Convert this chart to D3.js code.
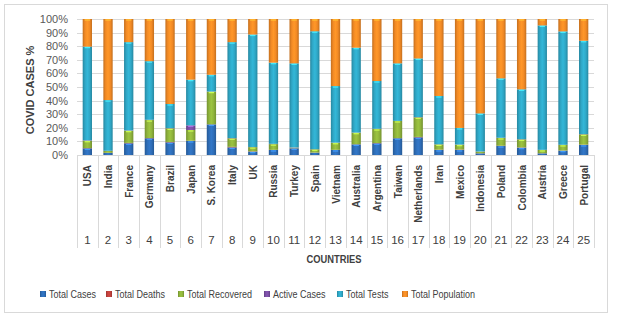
<!DOCTYPE html>
<html>
<head>
<meta charset="utf-8">
<script src="https://cdn.jsdelivr.net/npm/d3@7"></script>
<style>
	body { margin: 0; background: #fff; }
	text { font-family: "Liberation Sans", Arial, sans-serif; }
</style>
</head>
<body>
<svg id="chart" width="618" height="321"></svg>
<script>
// data (percent share of each stack)
let countries = ["USA", "India", "France", "Germany", "Brazil", "Japan", "S. Korea", "Italy", "UK", "Russia",
	"Turkey", "Spain", "Vietnam", "Australia", "Argentina", "Taiwan", "Netherlands", "Iran", "Mexico",
	"Indonesia", "Poland", "Colombia", "Austria", "Greece", "Portugal"];
let ranks = d3.range(1, 26).map(String);
let totalCases = [4.9, 1.5, 8.6, 12.3, 9.3, 10.3, 22.5, 5.6, 2.5, 3.7, 4.9, 1.7, 3.7, 7.8, 8.6, 12.3, 13, 3.7, 3.7, 1.2, 6.6, 5.4, 1.2, 3.2, 7.4];
let totalDeaths = [0.2, 0.1, 0.3, 0.2, 0.3, 0.2, 0.1, 0.4, 0.2, 0.1, 0.1, 0.1, 0.1, 0.1, 0.2, 0.1, 0.3, 0.2, 0.3, 0.1, 0.2, 0.2, 0.1, 0.1, 0.2];
let totalRecovered = [5.4, 1.4, 9.0, 13.2, 10.0, 7.9, 24.0, 6.3, 3.1, 4.2, 0.4, 2.4, 5.2, 8.5, 10.3, 12.6, 14.4, 3.9, 3.6, 1.2, 5.7, 5.9, 2.4, 4.1, 7.6];
let activeCases = [0.3, 0.1, 0.2, 0.2, 0.2, 3.4, 0.1, 0.2, 0.1, 0.2, 0.2, 0.1, 0.1, 0.1, 0.2, 0.1, 0.2, 0.1, 0.1, 0.1, 0.2, 0.2, 0.1, 0.1, 0.2];
let totalTests = [68.9, 37.3, 64.9, 43.1, 17.7, 33.6, 12.3, 70.5, 82.7, 59.7, 61.8, 86.7, 41.6, 62.4, 35.1, 42.3, 43.1, 35.5, 12.2, 28.0, 43.7, 36.6, 91.5, 83.4, 68.6];
let totalPopulation = [20.3, 59.6, 17, 31, 62.5, 44.6, 41, 17, 11.4, 32.1, 32.6, 9, 49.3, 21.1, 45.6, 32.6, 29, 56.6, 80.1, 69.4, 43.6, 51.7, 4.7, 9.1, 16];
let seriesNames = ["Total Cases", "Total Deaths", "Total Recovered", "Active Cases", "Total Tests", "Total Population"];
let seriesColors = ["#2e6db7", "#c0413c", "#8fb33b", "#7a4fa3", "#2fa7c6", "#f28a25"];
let yTicks = d3.range(0, 1.01, 0.1);

let seriesValues = [totalCases, totalDeaths, totalRecovered, activeCases, totalTests, totalPopulation];
let rows = countries.map(function(c, i) {
	let row = { country: c };
	seriesNames.forEach(function(s, k) { row[s] = seriesValues[k][i]; });
	return row;
});

let svg = d3.select("#chart");

// outer border
svg.append("rect")
	.attr("x", 4.5).attr("y", 4.5)
	.attr("width", 603).attr("height", 308)
	.attr("fill", "#fff")
	.attr("stroke", "#d9d9d9");

let plot = { left: 77, right: 594, top: 19, bottom: 155 };

let x = d3.scaleBand()
	.domain(countries)
	.range([plot.left, plot.right])
	.paddingInner(0.55)
	.paddingOuter(0.275);

let y = d3.scaleLinear()
	.domain([0, 1])
	.range([plot.bottom, plot.top]);

// gridlines
svg.append("g")
	.selectAll("line")
	.data(yTicks)
	.enter()
	.append("line")
	.attr("x1", plot.left).attr("x2", plot.right)
	.attr("y1", function(d) { return Math.round(y(d)) + 0.5; })
	.attr("y2", function(d) { return Math.round(y(d)) + 0.5; })
	.attr("stroke", "#d9d9d9");

// y axis labels
let yAxis = d3.axisLeft(y)
	.tickValues(yTicks)
	.tickFormat(d3.format(".0%"))
	.tickSize(0)
	.tickPadding(9);
let yG = svg.append("g")
	.attr("transform", "translate(" + plot.left + ",0)")
	.call(yAxis);
yG.select(".domain").remove();
yG.selectAll("text")
	.attr("font-size", "11px")
	.attr("fill", "#595959")
	.style("font-family", "'Liberation Sans', Arial, sans-serif");

// bevel-ish gradients
let defs = svg.append("defs");
seriesColors.forEach(function(c, k) {
	let g = defs.append("linearGradient")
		.attr("id", "grad" + k)
		.attr("x1", "0").attr("x2", "1").attr("y1", "0").attr("y2", "0");
	let dark = d3.color(c).darker(0.6);
	let light = d3.color(c).brighter(0.25);
	g.append("stop").attr("offset", "0%").attr("stop-color", dark);
	g.append("stop").attr("offset", "25%").attr("stop-color", c);
	g.append("stop").attr("offset", "50%").attr("stop-color", light);
	g.append("stop").attr("offset", "75%").attr("stop-color", c);
	g.append("stop").attr("offset", "100%").attr("stop-color", dark);
});

let stack = d3.stack()
	.keys(seriesNames)
	.offset(d3.stackOffsetExpand);
let layers = stack(rows);

let layerG = svg.append("g")
	.selectAll("g")
	.data(layers)
	.enter()
	.append("g")
	.attr("fill", function(d, i) { return "url(#grad" + i + ")"; });

layerG.selectAll("rect")
	.data(function(d) { return d; })
	.enter()
	.append("rect")
	.attr("x", function(d) { return x(d.data.country); })
	.attr("width", x.bandwidth())
	.attr("y", function(d) { return y(d[1]); })
	.attr("height", function(d) { return Math.max(0, y(d[0]) - y(d[1])); });

// small highlight at the top of each segment
layerG.selectAll("line")
	.data(function(d) { return d.filter(function(v) { return y(v[0]) - y(v[1]) > 2.5; }); })
	.enter()
	.append("line")
	.attr("x1", function(d) { return x(d.data.country) + 2; })
	.attr("x2", function(d) { return x(d.data.country) + x.bandwidth() - 2; })
	.attr("y1", function(d) { return y(d[1]) + 1; })
	.attr("y2", function(d) { return y(d[1]) + 1; })
	.attr("stroke", function(d) {
		let k = seriesNames.indexOf(d3.select(this.parentNode).datum().key);
		return d3.color(seriesColors[k]).brighter(1);
	})
	.attr("stroke-width", 1.2);

// category axis: separators, names, numbers
let step = x.step();
let edges = d3.range(0, countries.length + 1).map(function(i) { return plot.left + i * step; });
svg.append("g")
	.selectAll("line")
	.data(edges)
	.enter()
	.append("line")
	.attr("x1", function(d) { return Math.round(d) + 0.5; })
	.attr("x2", function(d) { return Math.round(d) + 0.5; })
	.attr("y1", plot.bottom)
	.attr("y2", 248)
	.attr("stroke", "#d9d9d9");

svg.append("g")
	.selectAll("text")
	.data(countries)
	.enter()
	.append("text")
	.attr("transform", function(d) {
		return "translate(" + (x(d) + x.bandwidth() / 2 + 4) + ",165) rotate(-90)";
	})
	.attr("text-anchor", "end")
	.attr("font-size", "10px")
	.attr("font-weight", "bold")
	.attr("fill", "#404040")
	.text(function(d) { return d; });

svg.append("g")
	.selectAll("text")
	.data(ranks)
	.enter()
	.append("text")
	.attr("x", function(d, i) { return x(countries[i]) + x.bandwidth() / 2; })
	.attr("y", 244)
	.attr("text-anchor", "middle")
	.attr("font-size", "11.5px")
	.attr("fill", "#404040")
	.text(function(d) { return d; });

// axis titles (squeezed a little to get closer to the narrow original font)
svg.append("text")
	.attr("transform", "translate(334,263) scale(0.85,1)")
	.attr("text-anchor", "middle")
	.attr("font-size", "11px")
	.attr("font-weight", "bold")
	.attr("fill", "#404040")
	.text("COUNTRIES");

svg.append("text")
	.attr("transform", "translate(34,90) rotate(-90)")
	.attr("text-anchor", "middle")
	.attr("font-size", "11px")
	.attr("font-weight", "bold")
	.attr("fill", "#404040")
	.text("COVID CASES %");

// legend
let legendX = [40, 106, 178, 264, 337, 402];
let legend = svg.append("g")
	.selectAll("g")
	.data(seriesNames)
	.enter()
	.append("g")
	.attr("transform", function(d, i) { return "translate(" + legendX[i] + ",294)"; });
legend.append("rect")
	.attr("x", 0).attr("y", -3)
	.attr("width", 6).attr("height", 6)
	.attr("fill", function(d, i) { return "url(#grad" + i + ")"; });
legend.append("text")
	.attr("transform", "translate(9,4) scale(0.82,1)")
	.attr("font-size", "11px")
	.attr("fill", "#404040")
	.text(function(d) { return d; });
</script>
</body>
</html>
